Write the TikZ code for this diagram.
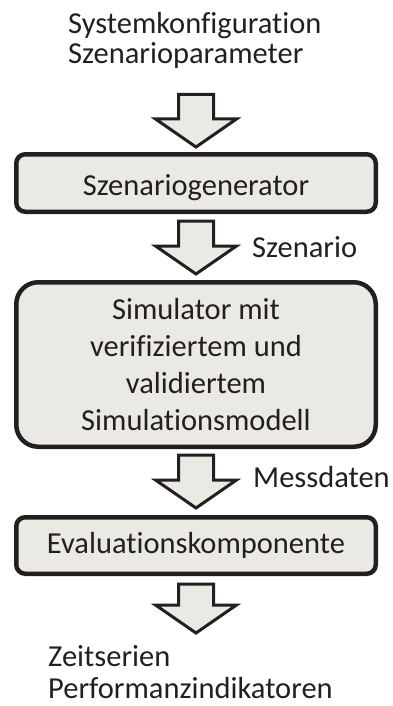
\documentclass[tikz,border=0pt]{standalone}
\usepackage{fontspec}
\setmainfont{Carlito}[RawFeature={-liga,-clig,-dlig}]
\usetikzlibrary{calc}
\definecolor{boxfill}{HTML}{EAE9E3}
\definecolor{ink}{HTML}{231F20}
\newcommand\blockarrow[2]{%
  \draw[blk] let \p1=(#1), \p2=(#2) in
    (\x2-17.5pt,\y1) -- (\x2+17.5pt,\y1) -- (\x2+17.5pt,\y2+28pt) -- (\x2+40.5pt,\y2+28pt)
    -- (\x2,\y2) -- (\x2-40.5pt,\y2+28pt) -- (\x2-17.5pt,\y2+28pt) -- cycle;}
\begin{document}
\begin{tikzpicture}[x=1pt,y=1pt,
  txt/.style={font=\fontsize{30.5}{30.5}\selectfont, text=ink, inner sep=0pt},
  box/.style={draw=ink, line width=4.5pt, fill=boxfill, rounded corners=9pt,
    minimum width=359.5pt, inner sep=0pt, txt},
  blk/.style={draw=ink, line width=3pt, fill=boxfill, line join=miter}]
\useasboundingbox (0,0) rectangle (392,-706);
\node[txt, anchor=base west] (in1) at (68,-34) {Systemkonfiguration};
\node[txt, anchor=base west] (in2) at (68,-64) {Szenarioparameter};
\node[box, minimum height=57.5pt, text height=24pt, text depth=0pt] (b1) at (196,-183) {Szenariogenerator};
\node[box, minimum height=164.5pt, rounded corners=22pt, align=center,
  font=\fontsize{30.5}{37}\selectfont] (b2) at (196,-364.5)
  {Simulator mit\\verifiziertem und\\validiertem\\Simulationsmodell};
\node[box, minimum height=56.5pt] (b3) at (196,-545.5) {Evaluationskomponente};
\node[txt, anchor=base west] (l2) at (252,-257) {Szenario};
\node[txt, anchor=base west] (l3) at (253,-487) {Messdaten};
\node[txt, anchor=base west] (out1) at (48,-666) {Zeitserien};
\node[txt, anchor=base west] (out2) at (48,-698) {Performanzindikatoren};
\coordinate (s1) at (196,-94.5);
\coordinate (t1) at ($(b1.north)+(0,5)$);
\coordinate (s2) at ($(b1.south)+(0,-7)$);
\coordinate (t2) at ($(b2.north)+(0,6)$);
\coordinate (s3) at ($(b2.south)+(0,-6)$);
\coordinate (t3) at ($(b3.north)+(0,7)$);
\coordinate (s4) at ($(b3.south)+(0,-8)$);
\coordinate (t4) at (196,-633);
\blockarrow{s1}{t1}
\blockarrow{s2}{t2}
\blockarrow{s3}{t3}
\blockarrow{s4}{t4}
\end{tikzpicture}
\end{document}
